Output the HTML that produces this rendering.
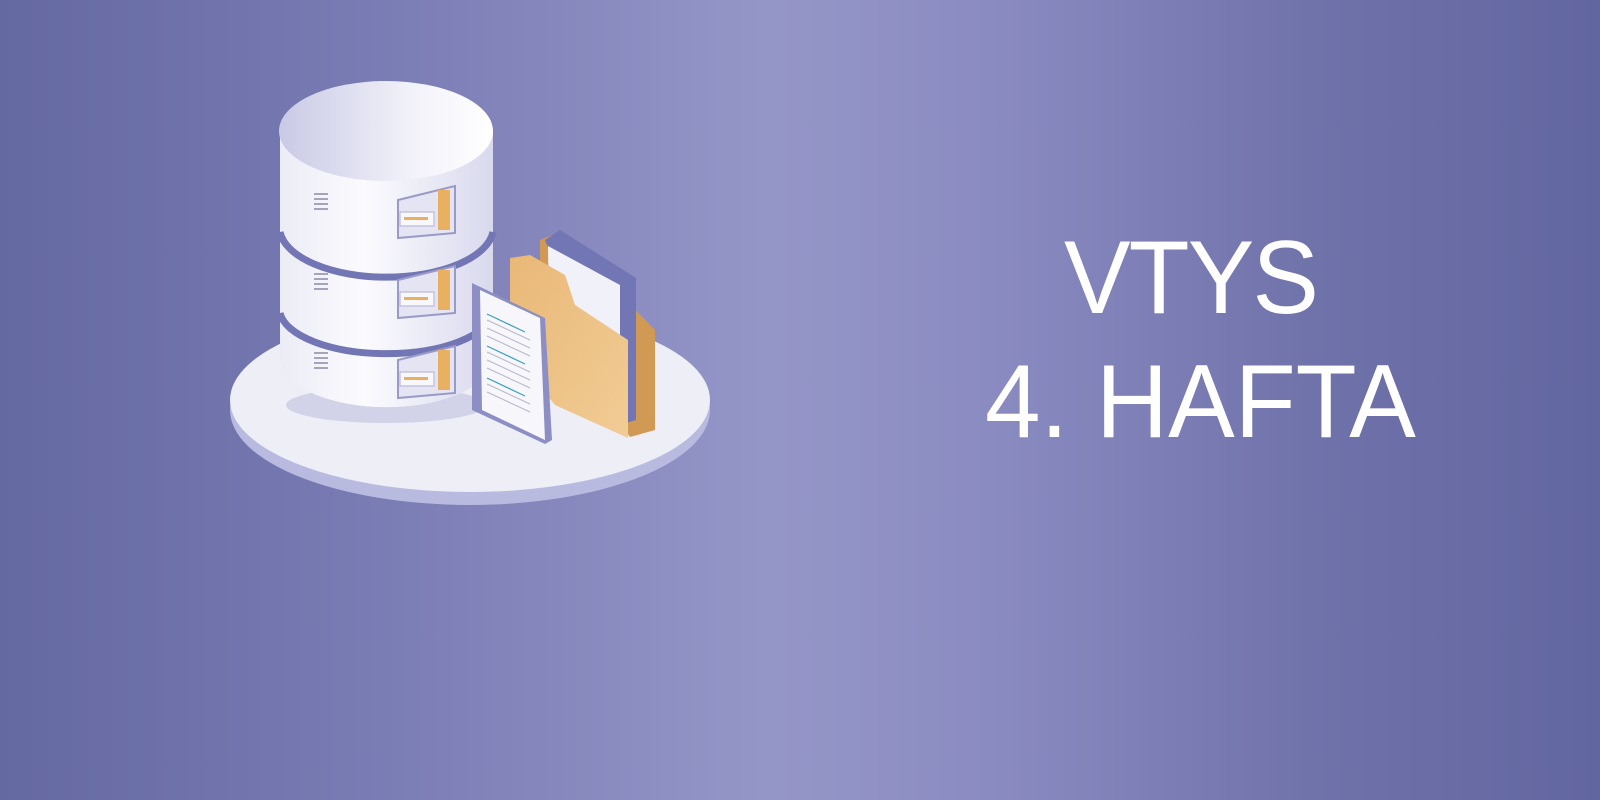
<!DOCTYPE html>
<html><head><meta charset="utf-8"><style>
html,body{margin:0;padding:0}
body{width:1600px;height:800px;overflow:hidden;position:relative;
background:linear-gradient(90deg,#6569a1 0%,#7b7db5 25%,#9596c8 48%,#8a8bc1 62%,#7072aa 82%,#6266a0 100%);
font-family:"Liberation Sans",sans-serif;}
.t{position:absolute;color:#fff;font-size:104px;line-height:1;letter-spacing:-2px;white-space:nowrap;transform-origin:0 0;transform:scaleX(0.96)}
</style></head><body>
<svg width="1600" height="800" style="position:absolute;left:0;top:0">
<defs>
<linearGradient id="cyl" x1="0" x2="1"><stop offset="0" stop-color="#ececf6"/><stop offset=".4" stop-color="#fbfbfe"/><stop offset="1" stop-color="#d9d9ee"/></linearGradient>
<linearGradient id="top" x1="0" x2="1"><stop offset="0" stop-color="#c9c9e6"/><stop offset=".6" stop-color="#f1f1f9"/><stop offset="1" stop-color="#fff"/></linearGradient>
<linearGradient id="fold" x1="0" y1="0" x2="1" y2="1"><stop offset="0" stop-color="#e9b877"/><stop offset="1" stop-color="#f1cc95"/></linearGradient>
</defs>
<ellipse cx="470" cy="410" rx="240" ry="95" fill="#b9bae0"/>
<ellipse cx="470" cy="400" rx="240" ry="92" fill="#eeeef7"/>
<ellipse cx="386" cy="405" rx="100" ry="18" fill="#d2d2e8"/>
<path d="M280 130 L280 362 A107 50 0 0 0 493 362 L493 130 Z" fill="url(#cyl)"/>
<path d="M280 232 A107 50 0 0 0 493 232" fill="none" stroke="#7376b4" stroke-width="7"/>
<path d="M280 313 A107 45 0 0 0 493 313" fill="none" stroke="#7376b4" stroke-width="7"/>
<ellipse cx="386" cy="131" rx="107" ry="50" fill="url(#top)"/>
<g fill="#a4a4bc">
<rect x="314" y="193" width="14" height="2"/><rect x="314" y="198" width="14" height="2"/><rect x="314" y="203" width="14" height="2"/><rect x="314" y="208" width="14" height="2"/>
<rect x="314" y="273" width="14" height="2"/><rect x="314" y="278" width="14" height="2"/><rect x="314" y="283" width="14" height="2"/><rect x="314" y="288" width="14" height="2"/>
<rect x="314" y="352" width="14" height="2"/><rect x="314" y="357" width="14" height="2"/><rect x="314" y="362" width="14" height="2"/><rect x="314" y="367" width="14" height="2"/>
</g>
<g>
<path d="M398 200 L455 186 L455 233 L398 238 Z" fill="#e4e4f2" stroke="#9a9ac8" stroke-width="2"/>
<rect x="400" y="212" width="34" height="14" fill="#f7f7fc" stroke="#b0b0d0"/>
<rect x="404" y="217" width="24" height="3" fill="#e8b060"/>
<rect x="438" y="190" width="12" height="40" fill="#e8b060"/>
<path d="M398 280 L455 266 L455 313 L398 318 Z" fill="#e4e4f2" stroke="#9a9ac8" stroke-width="2"/>
<rect x="400" y="292" width="34" height="14" fill="#f7f7fc" stroke="#b0b0d0"/>
<rect x="404" y="297" width="24" height="3" fill="#e8b060"/>
<rect x="438" y="270" width="12" height="40" fill="#e8b060"/>
<path d="M398 360 L455 346 L455 393 L398 398 Z" fill="#e4e4f2" stroke="#9a9ac8" stroke-width="2"/>
<rect x="400" y="372" width="34" height="14" fill="#f7f7fc" stroke="#b0b0d0"/>
<rect x="404" y="377" width="24" height="3" fill="#e8b060"/>
<rect x="438" y="350" width="12" height="40" fill="#e8b060"/>
</g>
<path d="M540 240 L560 232 L655 330 L655 430 L630 437 L540 300 Z" fill="#d09a55"/>
<path d="M545 240 L560 230 L636 278 L636 420 L620 425 Z" fill="#7376b4"/>
<path d="M548 246 L620 285 L620 418 L550 390 Z" fill="#f1f1f9"/>
<path d="M510 258 L530 255 L565 275 L575 305 L628 340 L628 438 L555 405 L510 350 Z" fill="url(#fold)"/>
<path d="M472 283 L545 318 L552 440 L545 444 L472 410 Z" fill="#8c8ec4"/>
<path d="M480 290 L540 318 L545 440 L482 410 Z" fill="#f6f6fb"/>
<g stroke="#b6b6c8" stroke-width="1">
<line x1="487" y1="320" x2="530" y2="340"/><line x1="487" y1="328" x2="530" y2="348"/><line x1="487" y1="336" x2="530" y2="356"/>
<line x1="487" y1="352" x2="530" y2="372"/><line x1="487" y1="360" x2="530" y2="380"/><line x1="487" y1="368" x2="530" y2="388"/>
<line x1="487" y1="384" x2="530" y2="404"/><line x1="487" y1="392" x2="530" y2="412"/>
</g>
<g stroke="#3aa0b8" stroke-width="1.2"><line x1="487" y1="314" x2="525" y2="332"/><line x1="487" y1="346" x2="525" y2="364"/><line x1="487" y1="378" x2="525" y2="396"/></g>
</svg>
<div class="t" style="left:1064px;top:226px">VTYS</div>
<div class="t" style="left:985px;top:350px;letter-spacing:0px">4. HAFTA</div>
</body></html>
